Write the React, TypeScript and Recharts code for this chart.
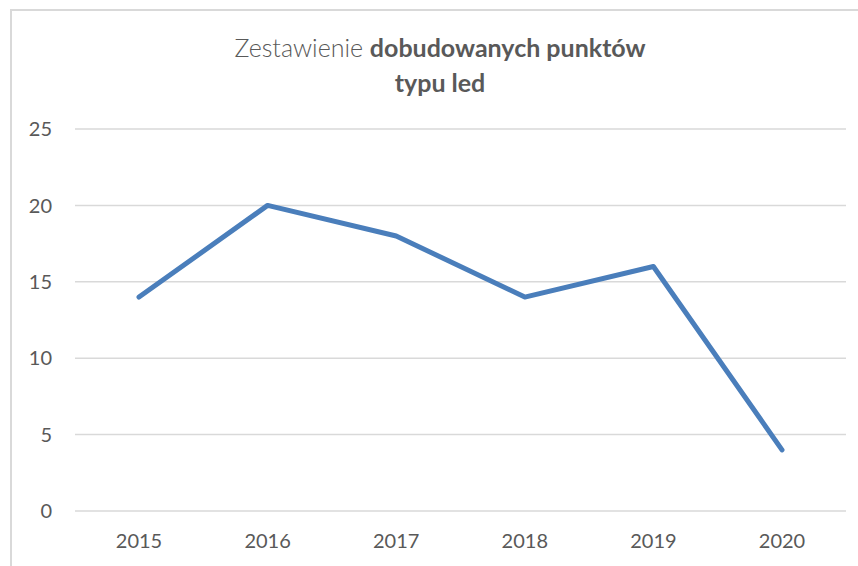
import { CartesianGrid, Line, LineChart, XAxis, YAxis } from 'recharts';

const years = ['2015', '2016', '2017', '2018', '2019', '2020'];
const ledPoints = [14, 20, 18, 14, 16, 4];
const yTicks = [0, 5, 10, 15, 20, 25];

const chartData = years.map((year, i) => ({ year, value: ledPoints[i] }));

const font = 'Lato, "Open Sans", "DejaVu Sans", sans-serif';
const textColor = '#595959';

export default function App() {
  return (
    <div
      style={{
        position: 'fixed',
        left: 0,
        top: 0,
        width: '858px',
        height: '566px',
        overflow: 'hidden',
        backgroundColor: '#FFFFFF',
        fontFamily: font,
      }}
    >
      {/* chart frame, cut off at right and bottom like the source */}
      <div
        style={{
          position: 'absolute',
          left: '10px',
          top: '9px',
          width: '900px',
          height: '600px',
          border: '2px solid #D9D9D9',
        }}
      />

      <div
        style={{
          position: 'absolute',
          left: 0,
          top: '30px',
          width: '880px',
          textAlign: 'center',
          color: textColor,
          fontSize: '25px',
          lineHeight: '35px',
        }}
      >
        <div>
          <span style={{ fontWeight: 300 }}>Zestawienie </span>
          <span style={{ fontWeight: 700 }}>dobudowanych punktów</span>
        </div>
        <div style={{ fontWeight: 700 }}>typu led</div>
      </div>

      <div style={{ position: 'absolute', left: 0, top: 0 }}>
        <LineChart width={858} height={566} data={chartData} margin={{ top: 129, right: 12, left: 0, bottom: 15 }}>
          <CartesianGrid stroke="#D9D9D9" strokeWidth={1.5} vertical={false} />
          <XAxis
            dataKey="year"
            height={40}
            padding={{ left: 64, right: 64 }}
            axisLine={false}
            tickLine={false}
            tickMargin={17}
            tick={{ fontSize: 20, fill: textColor, fontFamily: font }}
          />
          <YAxis
            width={75}
            domain={[0, 25]}
            ticks={yTicks}
            axisLine={false}
            tickLine={false}
            tickMargin={17}
            tick={{ fontSize: 20, fill: textColor, fontFamily: font }}
          />
          <Line
            type="linear"
            dataKey="value"
            stroke="#4A7EBB"
            strokeWidth={5}
            strokeLinecap="round"
            strokeLinejoin="round"
            dot={false}
            activeDot={false}
            isAnimationActive={false}
          />
        </LineChart>
      </div>
    </div>
  );
}
